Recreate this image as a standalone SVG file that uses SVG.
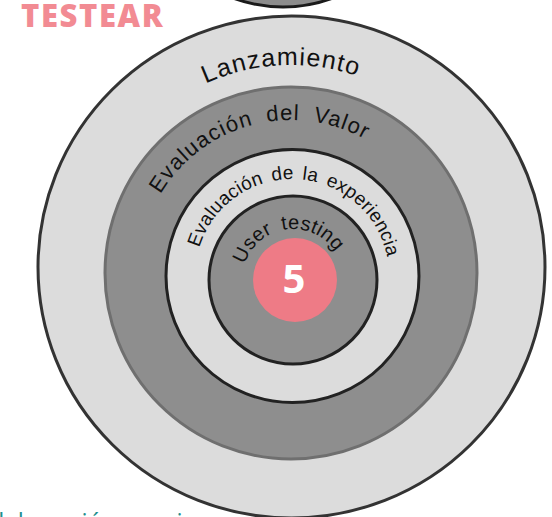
<svg xmlns="http://www.w3.org/2000/svg" width="552" height="517" viewBox="0 0 552 517">
  <style>
    .hand { font-family: "Liberation Sans", "DejaVu Sans", sans-serif; fill: #111; }
    .ring-light { fill: #dcdcdc; }
    .ring-dark { fill: #8e8e8e; }
  </style>
  <defs>
    <!-- baseline arcs: left -> over the top -> right -->
    <path id="arc-lanz" d="M 84 272 A 207 207 0 0 1 498 272"/>
    <path id="arc-valor" d="M 139 272 A 152 152 0 0 1 443 272"/>
    <path id="arc-exp" d="M 195 276 A 97 97 0 0 1 389 276"/>
    <path id="arc-user" d="M 242 280 A 51 51 0 0 1 344 280"/>
  </defs>
  <rect width="552" height="517" fill="#ffffff"/>

  <!-- bottom of the previous stage circle -->
  <g id="prev-stage">
    <ellipse cx="283" cy="-150" rx="150" ry="157" fill="#8c8c8c" stroke="#1a1a1a" stroke-width="3"/>
  </g>

  <g id="title">
    <text x="21" y="27" font-family="'Open Sans', 'Liberation Sans', sans-serif" font-weight="800" font-size="31" letter-spacing="1.6" fill="#f28b93">TESTEAR</text>
  </g>

  <g id="lanzamiento">
    <ellipse cx="291.5" cy="267" rx="253.5" ry="251" class="ring-light" stroke="#333" stroke-width="3"/>
    <text class="hand" font-size="25" letter-spacing="1.2"><textPath href="#arc-lanz" startOffset="315" text-anchor="middle">Lanzamiento</textPath></text>
  </g>

  <g id="evaluacion-valor">
    <circle cx="291" cy="273" r="186" class="ring-dark" stroke="#6f6f6f" stroke-width="3"/>
    <text class="hand" font-size="22" letter-spacing="1.2" word-spacing="6"><textPath href="#arc-valor" startOffset="199" text-anchor="middle">Evaluación del Valor</textPath></text>
  </g>

  <g id="evaluacion-experiencia">
    <circle cx="292.5" cy="276" r="126.5" class="ring-light" stroke="#222" stroke-width="3"/>
    <text class="hand" font-size="19" letter-spacing="0.2" word-spacing="3"><textPath href="#arc-exp" startOffset="157" text-anchor="middle">Evaluación de la experiencia</textPath></text>
  </g>

  <g id="user-testing">
    <circle cx="293" cy="280" r="84" class="ring-dark" stroke="#222" stroke-width="3"/>
    <text class="hand" font-size="20" letter-spacing="0.3" word-spacing="4"><textPath href="#arc-user" startOffset="73" text-anchor="middle">User testing</textPath></text>
  </g>

  <g id="step-5">
    <circle cx="295" cy="280" r="42" fill="#ee7b86"/>
    <text x="294" y="293" text-anchor="middle" font-family="'Open Sans', 'Liberation Sans', sans-serif" font-weight="700" font-size="40" fill="#ffffff">5</text>
  </g>

  <g id="caption">
    <text x="-15" y="530" font-family="'Open Sans', 'Liberation Sans', sans-serif" font-size="24" fill="#1f8f8f">Elaboración propia</text>
  </g>
</svg>
